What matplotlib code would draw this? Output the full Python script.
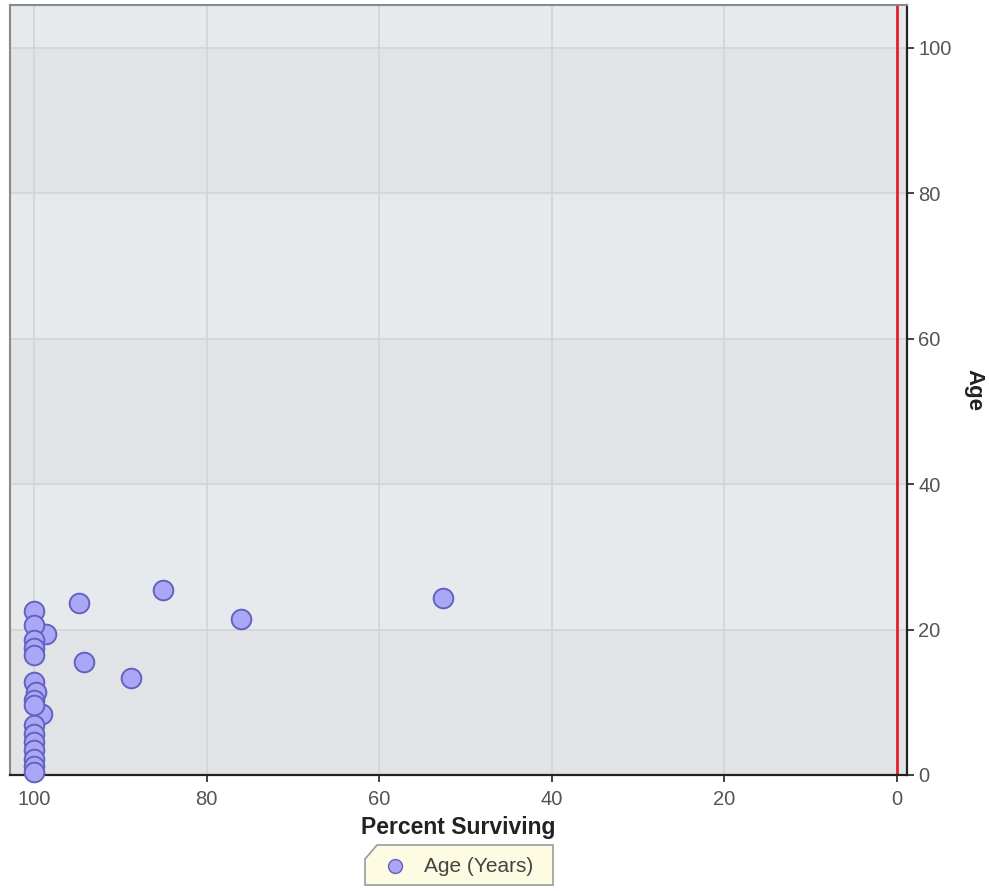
import matplotlib
matplotlib.use("Agg")
import matplotlib.pyplot as plt
from matplotlib.lines import Line2D
from matplotlib.patches import Polygon

plt.rcParams['font.family'] = ['Liberation Sans', 'DejaVu Sans']

# Data: percent surviving vs age
pct_surviving = [52.6, 76.0, 85.1, 94.8, 94.2, 88.8, 98.6, 99.1,
                 100, 100, 100, 100, 100, 100, 99.8, 100, 100,
                 100, 100, 100, 100, 100, 100, 100]
age_years = [24.4, 21.4, 25.5, 23.6, 15.6, 13.4, 19.4, 8.4,
             22.6, 20.6, 18.6, 17.4, 16.5, 12.8, 11.4, 10.3, 9.6,
             6.9, 5.7, 4.6, 3.4, 2.2, 1.3, 0.4]

x_ticks = [100, 80, 60, 40, 20, 0]
y_ticks = [0, 20, 40, 60, 80, 100]
band_edges = [0, 20, 40, 60, 80, 100, 106]

W, H = 989, 892
fig = plt.figure(figsize=(W / 100, H / 100), dpi=100)
fig.patch.set_facecolor("white")
ax = fig.add_axes([10 / W, 117 / H, 897 / W, 770 / H])

ax.set_xlim(102.8, -1.2)
ax.set_ylim(0, 105.9)

# alternating horizontal bands
ax.set_facecolor("#e7eaed")
for i in range(len(band_edges) - 1):
    col = "#e1e3e6" if i % 2 == 0 else "#e7eaed"
    ax.axhspan(band_edges[i], band_edges[i + 1], color=col, zorder=0, lw=0)

ax.grid(True, color="#d2d5d8", lw=1.2, zorder=1)
ax.set_axisbelow(True)

ax.axvline(0, color="#e8202a", lw=2, zorder=2)

ax.scatter(pct_surviving, age_years, s=200, facecolor="#aaa8f6",
           edgecolor="#6561c0", lw=1.4, zorder=3, clip_on=False)

ax.set_xticks(x_ticks)
ax.set_yticks(y_ticks)
ax.yaxis.tick_right()
ax.yaxis.set_label_position("right")
ax.tick_params(axis="both", colors="#222222", labelcolor="#555555",
               labelsize=14.5, length=5, width=1.2, direction="out")
ax.tick_params(axis="y", pad=3)
ax.tick_params(axis="x", pad=6)

ax.set_xlabel("Percent Surviving", fontsize=16.5, fontweight="bold",
              color="#222222", labelpad=5)
ax.set_ylabel("Age", fontsize=16, fontweight="bold", color="#222222",
              rotation=270, labelpad=24)

for s in ["left", "top"]:
    ax.spines[s].set_color("#8a8a8a")
    ax.spines[s].set_linewidth(1.5)
for s in ["bottom", "right"]:
    ax.spines[s].set_color("#222222")
    ax.spines[s].set_linewidth(1.6)

# legend box with cut corner
x0, x1 = 365 / W, 553 / W
y0, y1 = 1 - 885 / H, 1 - 845 / H
cut = 12 / W
poly = Polygon([[x0 + cut, y1], [x1, y1], [x1, y0], [x0, y0],
                [x0, y1 - 14 / H]], closed=True, transform=fig.transFigure,
               facecolor="#fdfbe2", edgecolor="#9a9a9a", lw=1.2)
fig.patches.append(poly)
fig.lines.append(Line2D([395 / W], [1 - 866 / H], marker="o", ms=10,
                        markerfacecolor="#aaa8f6", markeredgecolor="#6561c0",
                        transform=fig.transFigure))
fig.text(424 / W, 1 - 866 / H, "Age (Years)", fontsize=15, color="#444444",
         va="center", ha="left")

fig.savefig("out.png", dpi=100)
